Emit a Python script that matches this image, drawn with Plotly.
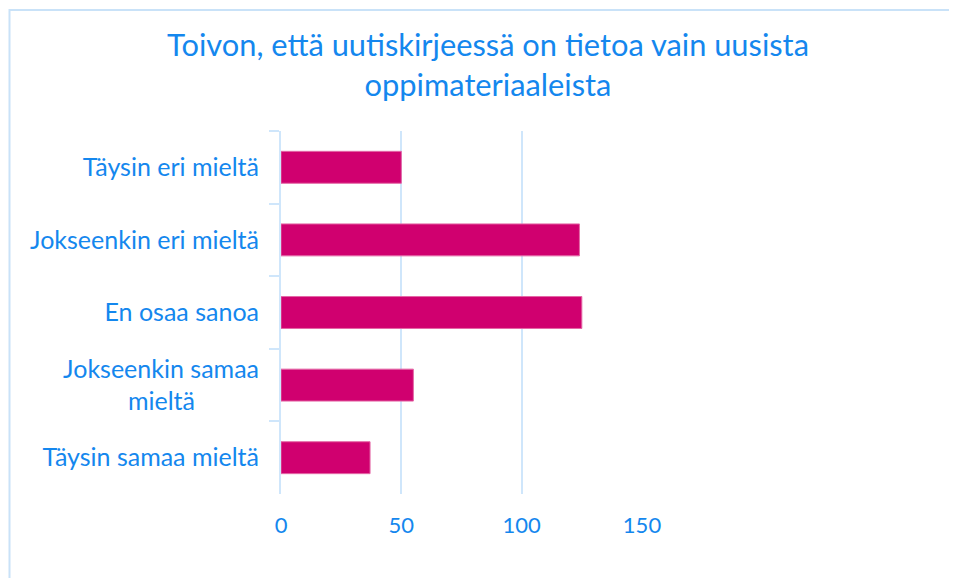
import plotly.graph_objects as go

categories = ["Täysin eri mieltä", "Jokseenkin eri mieltä", "En osaa sanoa",
              "Jokseenkin samaa<br>mieltä" + "\u00a0" * 10, "Täysin samaa mieltä"]
values = [50, 124, 125, 55, 37]
x_ticks = [0, 50, 100, 150]
title_text = "Toivon, että uutiskirjeessä on tietoa vain uusista<br>oppimateriaaleista"

BLUE = "#1487ee"
GRID = "#cfe6fb"
BAR = "#d0006f"
FONT = "Lato"

W, H = 957, 578
OFF = 8  # page body margin
L, R, T, B = 281 - OFF, 642 - OFF, 131 - OFF, 494 - OFF

fig = go.Figure(go.Bar(
    x=values, y=categories, orientation="h",
    marker=dict(color=BAR, line=dict(color="#e468a6", width=1)),
    width=0.44,
))

fig.update_layout(
    width=W, height=H,
    margin=dict(l=L, r=W - R, t=T, b=H - B),
    paper_bgcolor="white", plot_bgcolor="white",
    showlegend=False,
    font=dict(family=FONT, color=BLUE, size=25),
    title=dict(text=title_text, x=(488 - OFF) / W, xanchor="center",
               y=1 - (56 - OFF) / H, yanchor="middle",
               font=dict(family=FONT, size=30.8, color=BLUE)),
)

fig.update_xaxes(
    range=[0, 150], tickvals=x_ticks, ticktext=[str(v) for v in x_ticks],
    showgrid=True, gridcolor=GRID, gridwidth=2,
    zeroline=False, showline=False, ticks="",
    ticklabelstandoff=16,
    tickfont=dict(family=FONT, size=22, color=BLUE),
)
fig.update_yaxes(
    autorange="reversed", type="category", tickson="boundaries",
    showgrid=False, showline=True, linecolor=GRID, linewidth=2,
    ticks="outside", ticklen=10, tickcolor=GRID, tickwidth=2,
    ticklabelstandoff=15,
    tickfont=dict(family=FONT, size=25, color=BLUE),
)

pw, ph = R - L, B - T
fig.add_shape(type="rect", xref="paper", yref="paper",
              x0=(1.5 - L) / pw, x1=(965 - L) / pw,
              y0=(B - (590 - OFF)) / ph, y1=(B - (10 - OFF)) / ph,
              line=dict(color="#c9e2f8", width=2), fillcolor="rgba(0,0,0,0)",
              layer="below")

fig.write_html("out.html")
